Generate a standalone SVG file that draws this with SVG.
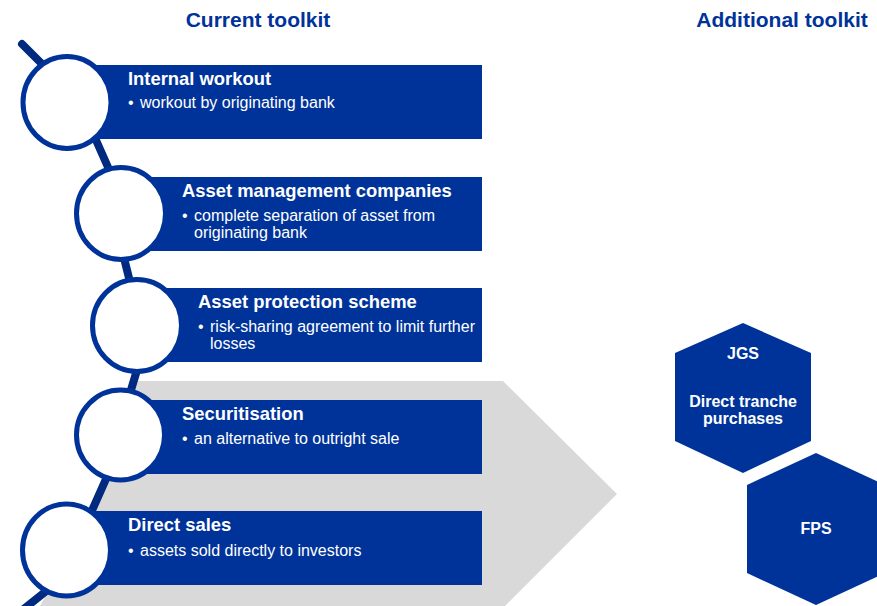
<svg xmlns="http://www.w3.org/2000/svg" width="877" height="606" viewBox="0 0 877 606">
<style>
.hdr{font-family:"Liberation Sans",Arial,sans-serif;font-weight:bold;font-size:21px;fill:#003399;text-anchor:middle}
.box{fill:#003399}
.ring{fill:#ffffff;stroke:#003399;stroke-width:5}
.ttl{font-family:"Liberation Sans",Arial,sans-serif;font-weight:bold;font-size:18.4px;fill:#ffffff}
.txt{font-family:"Liberation Sans",Arial,sans-serif;font-size:16px;fill:#ffffff}
.hex{fill:#003399}
.hx{font-family:"Liberation Sans",Arial,sans-serif;font-weight:bold;font-size:16px;fill:#ffffff;text-anchor:middle}
</style>
<rect width="877" height="606" fill="#ffffff"/>
<text class="hdr" x="258" y="27">Current toolkit</text>
<text class="hdr" x="782" y="27">Additional toolkit</text>
<polygon id="arrow" points="138,381 503,381 617,494 505,606 40,606 105,490" fill="#d9d9d9"/>
<g id="connectors" stroke="#002a80" stroke-width="8" fill="none" stroke-linecap="round">
<path d="M22,44 L50,72 M88,122 L115,183 M122,250 L132,290 M140,360 L128,400 M110,470 L90,515 M60,580 L20,612"/>
</g>
<g id="internal-workout">
<rect class="box" x="67" y="65" width="415" height="74"/>
<ellipse class="ring" cx="67" cy="102.5" rx="44" ry="46"/>
<text class="ttl" x="128" y="85">Internal workout</text>
<text class="txt" x="128" y="108">•<tspan x="140">workout by originating bank</tspan></text>
</g>
<g id="asset-management">
<rect class="box" x="121" y="177" width="361" height="74"/>
<ellipse class="ring" cx="121" cy="213.5" rx="44.5" ry="46"/>
<text class="ttl" x="182" y="197">Asset management companies</text>
<text class="txt" x="182" y="221">•<tspan x="194">complete separation of asset from</tspan></text>
<text class="txt" x="194" y="238">originating bank</text>
</g>
<g id="asset-protection">
<rect class="box" x="137" y="288" width="345" height="74"/>
<ellipse class="ring" cx="137" cy="325.5" rx="44.5" ry="46"/>
<text class="ttl" x="198" y="308">Asset protection scheme</text>
<text class="txt" x="198" y="332">•<tspan x="210">risk-sharing agreement to limit further</tspan></text>
<text class="txt" x="210" y="349">losses</text>
</g>
<g id="securitisation">
<rect class="box" x="120" y="400" width="362" height="74"/>
<ellipse class="ring" cx="120.5" cy="435" rx="44" ry="45"/>
<text class="ttl" x="182" y="420">Securitisation</text>
<text class="txt" x="182" y="444">•<tspan x="194">an alternative to outright sale</tspan></text>
</g>
<g id="direct-sales">
<rect class="box" x="67" y="511" width="415" height="74"/>
<ellipse class="ring" cx="66.5" cy="550" rx="44" ry="46"/>
<text class="ttl" x="128" y="531">Direct sales</text>
<text class="txt" x="128" y="556">•<tspan x="140">assets sold directly to investors</tspan></text>
</g>
<g id="jgs">
<polygon class="hex" points="743,323 811,353 811,441 743,473 675,441 675,353"/>
<text class="hx" x="743" y="359">JGS</text>
<text class="hx" x="743" y="407">Direct tranche</text>
<text class="hx" x="743" y="424">purchases</text>
</g>
<g id="fps">
<polygon class="hex" points="816,453 885,485 885,573 816,605 747,573 747,485"/>
<text class="hx" x="816" y="534">FPS</text>
</g>
</svg>
